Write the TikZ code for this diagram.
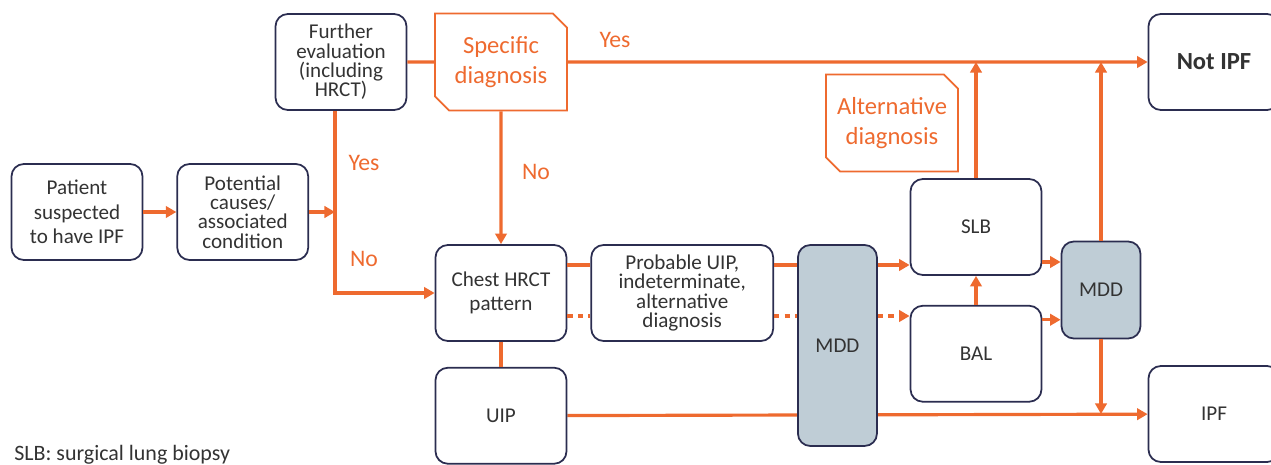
\documentclass[tikz,border=0pt]{standalone}
\usepackage{fontspec}
\setmainfont{Carlito}
\usepackage{xcolor}
\usepackage{tikz}
\usetikzlibrary{arrows.meta, positioning, shapes.misc, backgrounds}
\definecolor{flowor}{HTML}{EE6A2F}
\definecolor{boxline}{HTML}{2B2D50}
\definecolor{mddfill}{HTML}{BFCDD6}
\definecolor{boxtext}{HTML}{333333}
\tikzset{
  box/.style={draw=boxline, line width=1pt, rounded corners=7pt, fill=white, align=center, text=boxtext, minimum width=2.62cm, minimum height=1.92cm, inner sep=2pt, font=\fontsize{12}{14}\selectfont},
  tight/.style={font=\fontsize{12}{11}\selectfont},
  mdd/.style={box, fill=mddfill, minimum width=1.58cm},
  diag/.style={draw=flowor, line width=1pt, chamfered rectangle, chamfered rectangle corners={north east, south west}, chamfered rectangle xsep=4pt, chamfered rectangle ysep=4pt, align=center, text=flowor, minimum width=2.64cm, minimum height=1.94cm, inner sep=1pt, font=\fontsize{14}{17}\selectfont},
  link/.style={draw=flowor, line width=1.8pt},
  arrow/.style={link, -{Triangle[length=6pt, width=6.5pt]}},
  dotlink/.style={link, dash pattern=on 3pt off 3pt},
  dotarrow/.style={arrow, dash pattern=on 3pt off 3pt},
  answer/.style={text=flowor, font=\fontsize{13.5}{16}\selectfont},
  every node/.style={font=\fontsize{12}{14}\selectfont}
}

\begin{document}
\begin{tikzpicture}[x=0.02cm, y=-0.02cm]
    \useasboundingbox (0,0) rectangle (1271,465);
    \node[box] (patient) at (77,212) {Patient\\suspected\\to have IPF};
    \node[box, tight, right=0.66cm of patient] (causes) {Potential\\causes/\\associated\\condition};
    \node[box, tight] (further) at (341,62) {Further\\evaluation\\(including\\HRCT)};
    \node[diag] (specific) at (501,62) {Specific\\diagnosis};
    \node[box] (hrct) at (501,293) {Chest HRCT\\pattern};
    \node[box, below=0.5cm of hrct] (uip) {UIP};
    \node[box, tight, minimum width=3.64cm, right=0.46cm of hrct] (probable) {Probable UIP,\\indeterminate,\\alternative\\diagnosis};
    \node[mdd, minimum height=4.02cm, right=0.46cm of probable.north east, anchor=north west] (mddA) {MDD};
    \node[box] (slb) at (976,227) {SLB};
    \node[box, below=0.58cm of slb] (bal) {BAL};
    \node[mdd, minimum height=1.94cm] (mddB) at (1101,290) {MDD};
    \node[box] (notipf) at (1214,62) {\fontsize{14}{17}\selectfont\bfseries Not IPF};
    \node[box] (ipf) at (1214,414) {IPF};
    \node[diag] (altdiag) at (892,123) {Alternative\\diagnosis};
    \node[anchor=base west, inner sep=0pt, text=boxtext, font=\fontsize{12.5}{14}\selectfont] (footnote) at (14,461) {SLB: surgical lung biopsy};

    \node[answer] (yesA) at (364,163) {Yes};
    \node[answer] (noA) at (364,259) {No};
    \node[answer] (noB) at (536,172) {No};
    \node[answer] (yesB) at (615,40) {Yes};

    \coordinate (split) at ([xshift=-0.12cm]further.south);
    \coordinate (solidrow) at ([yshift=0.56cm]hrct.east);
    \coordinate (dotrow) at ([yshift=-0.46cm]hrct.east);

    \draw[arrow] (patient) -- (causes);
    \draw[arrow] (causes.east) -- (causes.east -| split);
    \draw[arrow] (split) |- (hrct.west);
    \draw[link] (further) -- (specific);
    \draw[arrow] (specific) -- (notipf);
    \draw[arrow] (specific) -- (hrct);
    \draw[link] (hrct) -- (uip);
    \draw[link] (solidrow) -- (solidrow -| probable.west);
    \draw[dotlink] (dotrow) -- (dotrow -| probable.west);
    \draw[link] (probable.east |- solidrow) -- (solidrow -| mddA.west);
    \draw[dotlink] (probable.east |- dotrow) -- (dotrow -| mddA.west);
    \draw[arrow] (mddA.east |- solidrow) -- (solidrow -| slb.west);
    \draw[dotarrow] (mddA.east |- dotrow) -- (dotrow -| bal.west);
    \draw[arrow] (bal) -- (slb);
    \draw[arrow] (slb) -- (slb.north |- notipf.west);
    \draw[arrow] ([yshift=-0.7cm]slb.east) -- ([yshift=-0.7cm]slb.east -| mddB.west);
    \draw[arrow] ([yshift=0.68cm]bal.east) -- ([yshift=0.68cm]bal.east -| mddB.west);
    \draw[arrow] (mddB) -- (mddB.north |- notipf.west);
    \draw[arrow] (mddB) -- (mddB.south |- ipf.west);
    \begin{scope}[on background layer]
        \draw[arrow] (uip) -- (ipf);
    \end{scope}
\end{tikzpicture}
\end{document}
